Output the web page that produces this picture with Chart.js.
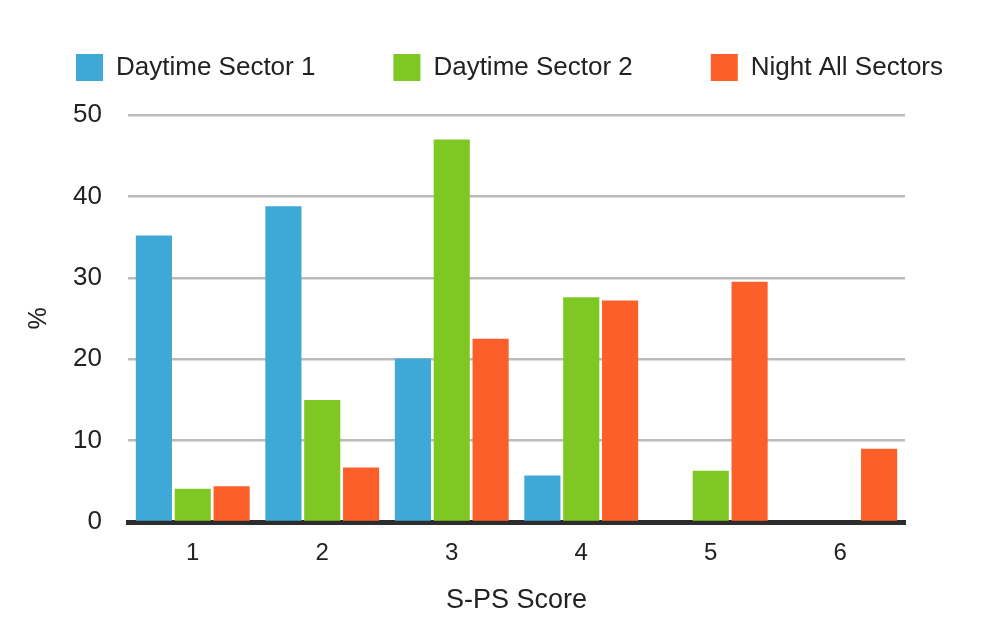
<!DOCTYPE html>
<html>
<head>
<meta charset="utf-8">
<script src="https://cdn.jsdelivr.net/npm/chart.js@4/dist/chart.umd.min.js"></script>
<style>
  html, body { margin: 0; padding: 0; background: #fff; }
  #wrap { width: 1000px; height: 643px; }
</style>
</head>
<body>
<div id="wrap"><canvas id="myChart" width="1000" height="643"></canvas></div>
<script>
const categories = ["1", "2", "3", "4", "5", "6"];
const daytime1 = [35.2, 38.8, 20.1, 5.7, 0, 0];
const daytime2 = [4.1, 15.0, 47.0, 27.6, 6.3, 0];
const nightAll = [4.4, 6.7, 22.5, 27.2, 29.5, 9.0];
const yTicks = [0, 10, 20, 30, 40, 50];

const font = "'Liberation Sans', Arial, Helvetica, sans-serif";
Chart.defaults.font.family = font;
Chart.defaults.color = "#222";

// legend: one wide row that takes the whole band above the plot
const legendBand = {
    id: 'legendBand',
    beforeInit(chart) {
        const fit = chart.legend.fit;
        chart.legend.fit = function () {
            this.maxWidth = 1200;
            fit.bind(chart.legend)();
            this.height = 115;
        };
    },
    afterLayout(chart) {
        const lg = chart.legend;
        lg.top -= 24;
        lg.bottom -= 24;
        lg.left = -16;
        lg.right = 1035;
    }
};

new Chart(document.getElementById('myChart'), {
    type: 'bar',
    data: {
        labels: categories,
        datasets: [
            { label: 'Daytime Sector 1', data: daytime1, backgroundColor: '#3ea9d7' },
            { label: 'Daytime Sector 2', data: daytime2, backgroundColor: '#7fc824' },
            { label: 'Night All Sectors', data: nightAll, backgroundColor: '#fd5f2b' }
        ]
    },
    options: {
        responsive: false,
        animation: false,
        layout: { padding: 0 },
        datasets: {
            bar: { categoryPercentage: 0.9, barPercentage: 0.93 }
        },
        plugins: {
            legend: {
                position: 'top',
                labels: {
                    boxWidth: 27,
                    boxHeight: 27,
                    padding: 78,
                    font: { size: 26 },
                    color: '#222'
                }
            },
            tooltip: { enabled: false }
        },
        scales: {
            x: {
                afterFit(axis) { axis.height = 121; },
                grid: { display: false },
                border: { display: true, color: '#2d2d2d', width: 5 },
                ticks: { font: { size: 24 }, padding: 9, color: '#222' },
                title: {
                    display: true,
                    text: 'S-PS Score',
                    font: { size: 27 },
                    color: '#222',
                    padding: { top: 0, bottom: 26 }
                }
            },
            y: {
                min: 0,
                max: 50,
                afterFit(axis) { axis.width = 128; },
                afterBuildTicks(axis) {
                    axis.ticks = yTicks.map(v => ({ value: v }));
                },
                grid: { color: '#bbbbbb', lineWidth: 2.5, drawTicks: false },
                border: { display: false },
                ticks: { font: { size: 26 }, padding: 26, color: '#222' },
                title: {
                    display: true,
                    text: '%',
                    font: { size: 25 },
                    color: '#222',
                    padding: { top: 24, bottom: 10 }
                }
            },
            yRight: {
                position: 'right',
                afterFit(axis) { axis.width = 95; },
                grid: { display: false },
                border: { display: false },
                ticks: { display: false }
            }
        }
    },
    plugins: [legendBand]
});
</script>
</body>
</html>
